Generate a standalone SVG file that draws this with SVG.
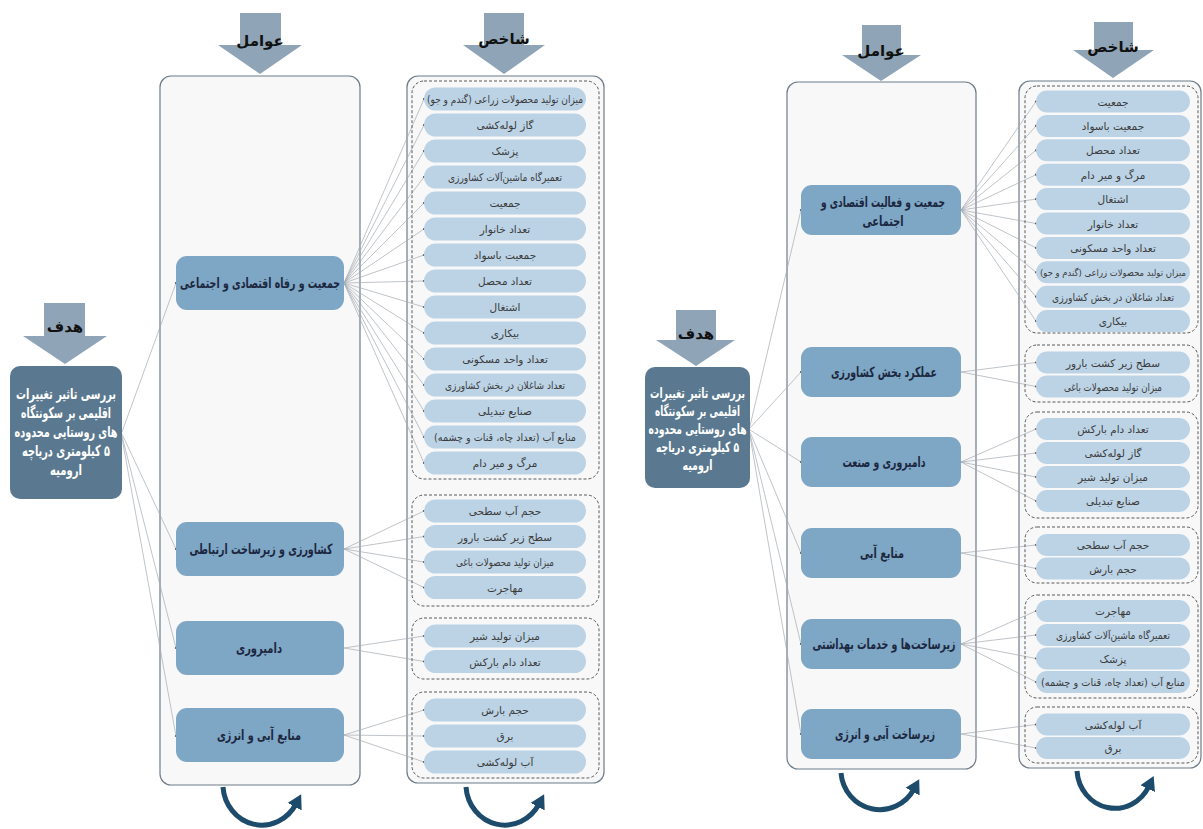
<svg xmlns="http://www.w3.org/2000/svg" width="1203" height="829" viewBox="0 0 1203 829">
<defs>
<style>
text{font-family:"DejaVu Sans",sans-serif;direction:rtl;text-anchor:middle;dominant-baseline:central}
.cont{fill:#f9f8f9;stroke:#6d7c89;stroke-width:1.2}
.dash{fill:none;stroke:#5a5a5a;stroke-width:1;stroke-dasharray:3 2}
.item{fill:#bcd3e6}
.it{font-size:10.5px;fill:#3b3b3b}
.fac{fill:#7ea6c5}
.ft{font-size:14px;font-weight:bold;fill:#1c2840}
.goal{fill:#5a7990}
.gt{font-size:15px;font-weight:bold;fill:#ffffff}
.gt2{font-size:14px;font-weight:bold;fill:#ffffff}
.harrow{fill:#8fa5b7}
.ht{font-size:15px;font-weight:bold;fill:#111}
.ln{stroke:#a3abb2;stroke-width:0.7;fill:none;marker-end:url(#tick)}
.loop{fill:none;stroke:#1d4b6c;stroke-width:5;marker-end:url(#ah)}
</style>
<marker id="tick" markerWidth="4" markerHeight="4" refX="2" refY="2" markerUnits="userSpaceOnUse"><circle cx="2" cy="2" r="1.1" fill="#555"/></marker>
<marker id="ah" markerWidth="18" markerHeight="18" refX="3" refY="9" orient="auto" markerUnits="userSpaceOnUse"><path d="M0,1 L14,9 L0,17 z" fill="#1d4b6c"/></marker>
</defs>

<!-- LEFT DIAGRAM -->
<g id="left-header-factors">
<polygon class="harrow" points="240,13 281,13 281,45 302,45 260,74 218,45 240,45"/>
<text class="ht" x="260" y="41">عوامل</text>
</g>
<g id="left-header-indicators">
<polygon class="harrow" points="484,13 524,13 524,45 545,45 504,74 463,45 484,45"/>
<text class="ht" x="504" y="39">شاخص</text>
</g>
<g id="left-header-goal">
<polygon class="harrow" points="44,303 85,303 85,336 107,336 65,364 23,336 44,336"/>
<text class="ht" x="65" y="327">هدف</text>
</g>

<rect id="left-factors-container" class="cont" x="160" y="76" width="200" height="709" rx="11"/>
<rect id="left-indicators-container" class="cont" x="407" y="76" width="197" height="707" rx="11"/>

<g id="left-connectors">
<path class="ln" d="M122,432 L176,283"/>
<path class="ln" d="M122,434 L176,549"/>
<path class="ln" d="M122,436 L176,648"/>
<path class="ln" d="M122,438 L176,736"/>
<path class="ln" d="M344,283 L424,99"/>
<path class="ln" d="M344,283 L424,125"/>
<path class="ln" d="M344,283 L424,151"/>
<path class="ln" d="M344,283 L424,177"/>
<path class="ln" d="M344,283 L424,203"/>
<path class="ln" d="M344,283 L424,229"/>
<path class="ln" d="M344,283 L424,255"/>
<path class="ln" d="M344,283 L424,281"/>
<path class="ln" d="M344,283 L424,307"/>
<path class="ln" d="M344,283 L424,333"/>
<path class="ln" d="M344,283 L424,359"/>
<path class="ln" d="M344,283 L424,385"/>
<path class="ln" d="M344,283 L424,411"/>
<path class="ln" d="M344,283 L424,437"/>
<path class="ln" d="M344,283 L424,463"/>
<path class="ln" d="M344,549 L424,511"/>
<path class="ln" d="M344,549 L424,536.5"/>
<path class="ln" d="M344,549 L424,562"/>
<path class="ln" d="M344,549 L424,587.5"/>
<path class="ln" d="M344,648 L424,636"/>
<path class="ln" d="M344,648 L424,661.5"/>
<path class="ln" d="M344,735 L424,710"/>
<path class="ln" d="M344,735 L424,736"/>
<path class="ln" d="M344,735 L424,762"/>
</g>

<g id="left-goal">
<rect class="goal" x="10" y="366" width="112" height="133" rx="10"/>
<text class="gt" x="66" y="394" textLength="100" lengthAdjust="spacingAndGlyphs">بررسی تاثیر تغییرات</text>
<text class="gt" x="66" y="413" textLength="90" lengthAdjust="spacingAndGlyphs">اقلیمی بر سکونتگاه</text>
<text class="gt" x="66" y="432" textLength="103" lengthAdjust="spacingAndGlyphs">های روستایی محدوده</text>
<text class="gt" x="66" y="451" textLength="88" lengthAdjust="spacingAndGlyphs">۵ کیلومتری دریاچه</text>
<text class="gt" x="66" y="470" textLength="32" lengthAdjust="spacingAndGlyphs">ارومیه</text>
</g>

<g id="left-f1"><rect class="fac" x="176" y="256" width="168" height="54" rx="11"/><text class="ft" x="260" y="283" textLength="160" lengthAdjust="spacingAndGlyphs">جمعیت و رفاه اقتصادی و اجتماعی</text></g>
<g id="left-f2"><rect class="fac" x="176" y="522" width="168" height="54" rx="11"/><text class="ft" x="261" y="549" textLength="143" lengthAdjust="spacingAndGlyphs">کشاورزی و زیرساخت ارتباطی</text></g>
<g id="left-f3"><rect class="fac" x="176" y="621" width="168" height="54" rx="11"/><text class="ft" x="259" y="648" textLength="46" lengthAdjust="spacingAndGlyphs">دامپروری</text></g>
<g id="left-f4"><rect class="fac" x="176" y="708" width="168" height="54" rx="11"/><text class="ft" x="259" y="735" textLength="84" lengthAdjust="spacingAndGlyphs">منابع آبی و انرژی</text></g>

<g id="left-g1">
<rect class="dash" x="412" y="81" width="187" height="398" rx="12"/>
<rect class="item" x="424" y="87.5" width="162" height="23" rx="11.5"/><text class="it" x="505" y="99" textLength="156" lengthAdjust="spacingAndGlyphs">میزان تولید محصولات زراعی (گندم و جو)</text>
<rect class="item" x="424" y="113.5" width="162" height="23" rx="11.5"/><text class="it" x="505" y="125">گاز لوله‌کشی</text>
<rect class="item" x="424" y="139.5" width="162" height="23" rx="11.5"/><text class="it" x="505" y="151">پزشک</text>
<rect class="item" x="424" y="165.5" width="162" height="23" rx="11.5"/><text class="it" x="505" y="177" textLength="114" lengthAdjust="spacingAndGlyphs">تعمیرگاه ماشین‌آلات کشاورزی</text>
<rect class="item" x="424" y="191.5" width="162" height="23" rx="11.5"/><text class="it" x="505" y="203">جمعیت</text>
<rect class="item" x="424" y="217.5" width="162" height="23" rx="11.5"/><text class="it" x="505" y="229">تعداد خانوار</text>
<rect class="item" x="424" y="243.5" width="162" height="23" rx="11.5"/><text class="it" x="505" y="255">جمعیت باسواد</text>
<rect class="item" x="424" y="269.5" width="162" height="23" rx="11.5"/><text class="it" x="505" y="281">تعداد محصل</text>
<rect class="item" x="424" y="295.5" width="162" height="23" rx="11.5"/><text class="it" x="505" y="307">اشتغال</text>
<rect class="item" x="424" y="321.5" width="162" height="23" rx="11.5"/><text class="it" x="505" y="333">بیکاری</text>
<rect class="item" x="424" y="347.5" width="162" height="23" rx="11.5"/><text class="it" x="505" y="359">تعداد واحد مسکونی</text>
<rect class="item" x="424" y="373.5" width="162" height="23" rx="11.5"/><text class="it" x="505" y="385" textLength="120" lengthAdjust="spacingAndGlyphs">تعداد شاغلان در بخش کشاورزی</text>
<rect class="item" x="424" y="399.5" width="162" height="23" rx="11.5"/><text class="it" x="505" y="411">صنایع تبدیلی</text>
<rect class="item" x="424" y="425.5" width="162" height="23" rx="11.5"/><text class="it" x="505" y="437" textLength="142" lengthAdjust="spacingAndGlyphs">منابع آب (تعداد چاه، قنات و چشمه)</text>
<rect class="item" x="424" y="451.5" width="162" height="23" rx="11.5"/><text class="it" x="505" y="463">مرگ و میر دام</text>
</g>
<g id="left-g2">
<rect class="dash" x="412" y="495" width="187" height="111" rx="12"/>
<rect class="item" x="424" y="499.5" width="162" height="23" rx="11.5"/><text class="it" x="505" y="511">حجم آب سطحی</text>
<rect class="item" x="424" y="525" width="162" height="23" rx="11.5"/><text class="it" x="505" y="536.5">سطح زیر کشت بارور</text>
<rect class="item" x="424" y="550.5" width="162" height="23" rx="11.5"/><text class="it" x="505" y="562" textLength="98" lengthAdjust="spacingAndGlyphs">میزان تولید محصولات باغی</text>
<rect class="item" x="424" y="576" width="162" height="23" rx="11.5"/><text class="it" x="505" y="587.5">مهاجرت</text>
</g>
<g id="left-g3">
<rect class="dash" x="412" y="618" width="187" height="61" rx="12"/>
<rect class="item" x="424" y="624.5" width="162" height="23" rx="11.5"/><text class="it" x="505" y="636">میزان تولید شیر</text>
<rect class="item" x="424" y="650" width="162" height="23" rx="11.5"/><text class="it" x="505" y="661.5">تعداد دام بارکش</text>
</g>
<g id="left-g4">
<rect class="dash" x="412" y="692" width="187" height="86" rx="12"/>
<rect class="item" x="424" y="698.5" width="162" height="23" rx="11.5"/><text class="it" x="505" y="710">حجم بارش</text>
<rect class="item" x="424" y="724.5" width="162" height="23" rx="11.5"/><text class="it" x="505" y="736">برق</text>
<rect class="item" x="424" y="750.5" width="162" height="23" rx="11.5"/><text class="it" x="505" y="762">آب لوله‌کشی</text>
</g>

<g id="left-loops">
<path class="loop" d="M223,787 A39,41 0 0 0 296,804"/>
<path class="loop" d="M466,787 A39,41 0 0 0 539,804"/>
</g>

<!-- RIGHT DIAGRAM -->
<g id="right-header-factors">
<polygon class="harrow" points="862,25 901,25 901,55 921,55 881,81 842,55 862,55"/>
<text class="ht" x="881" y="51">عوامل</text>
</g>
<g id="right-header-indicators">
<polygon class="harrow" points="1094,22 1133,22 1133,50 1154,50 1113,78 1073,50 1094,50"/>
<text class="ht" x="1113" y="47">شاخص</text>
</g>
<g id="right-header-goal">
<polygon class="harrow" points="676,310 716,310 716,340 735,340 696,366 656,340 676,340"/>
<text class="ht" x="696" y="334">هدف</text>
</g>

<rect id="right-factors-container" class="cont" x="787" y="82" width="189" height="687" rx="11"/>
<rect id="right-indicators-container" class="cont" x="1019" y="81" width="182" height="687" rx="11"/>

<g id="right-connectors">
<path class="ln" d="M750,426 L801,210"/>
<path class="ln" d="M750,428 L801,372"/>
<path class="ln" d="M750,430 L801,462"/>
<path class="ln" d="M750,432 L801,553"/>
<path class="ln" d="M750,434 L801,644"/>
<path class="ln" d="M750,436 L801,734"/>
<path class="ln" d="M961,210 L1036,101.5"/>
<path class="ln" d="M961,210 L1036,125.9"/>
<path class="ln" d="M961,210 L1036,150.3"/>
<path class="ln" d="M961,210 L1036,174.7"/>
<path class="ln" d="M961,210 L1036,199.1"/>
<path class="ln" d="M961,210 L1036,223.5"/>
<path class="ln" d="M961,210 L1036,247.9"/>
<path class="ln" d="M961,210 L1036,272.3"/>
<path class="ln" d="M961,210 L1036,296.7"/>
<path class="ln" d="M961,210 L1036,321.1"/>
<path class="ln" d="M961,372 L1036,362.5"/>
<path class="ln" d="M961,372 L1036,386.5"/>
<path class="ln" d="M961,462 L1036,429"/>
<path class="ln" d="M961,462 L1036,453"/>
<path class="ln" d="M961,462 L1036,477"/>
<path class="ln" d="M961,462 L1036,501"/>
<path class="ln" d="M961,553 L1036,545"/>
<path class="ln" d="M961,553 L1036,568.5"/>
<path class="ln" d="M961,644 L1036,611"/>
<path class="ln" d="M961,644 L1036,635"/>
<path class="ln" d="M961,644 L1036,658.5"/>
<path class="ln" d="M961,644 L1036,682"/>
<path class="ln" d="M961,734 L1036,724.5"/>
<path class="ln" d="M961,734 L1036,748"/>
</g>

<g id="right-goal">
<rect class="goal" x="645" y="367" width="105" height="121" rx="10"/>
<text class="gt2" x="697.5" y="393" textLength="95" lengthAdjust="spacingAndGlyphs">بررسی تاثیر تغییرات</text>
<text class="gt2" x="697.5" y="411" textLength="85" lengthAdjust="spacingAndGlyphs">اقلیمی بر سکونتگاه</text>
<text class="gt2" x="697.5" y="429" textLength="98" lengthAdjust="spacingAndGlyphs">های روستایی محدوده</text>
<text class="gt2" x="697.5" y="447" textLength="83" lengthAdjust="spacingAndGlyphs">۵ کیلومتری دریاچه</text>
<text class="gt2" x="697.5" y="465" textLength="30" lengthAdjust="spacingAndGlyphs">ارومیه</text>
</g>

<g id="right-f1"><rect class="fac" x="801" y="185" width="160" height="50" rx="11"/><text class="ft" x="883" y="202" textLength="124" lengthAdjust="spacingAndGlyphs">جمعیت و فعالیت اقتصادی و</text><text class="ft" x="883" y="221" textLength="41" lengthAdjust="spacingAndGlyphs">اجتماعی</text></g>
<g id="right-f2"><rect class="fac" x="801" y="347" width="160" height="50" rx="11"/><text class="ft" x="884" y="372" textLength="106" lengthAdjust="spacingAndGlyphs">عملکرد بخش کشاورزی</text></g>
<g id="right-f3"><rect class="fac" x="801" y="437" width="160" height="50" rx="11"/><text class="ft" x="884" y="462" textLength="83" lengthAdjust="spacingAndGlyphs">دامپروری و صنعت</text></g>
<g id="right-f4"><rect class="fac" x="801" y="528" width="160" height="50" rx="11"/><text class="ft" x="882" y="553" textLength="44" lengthAdjust="spacingAndGlyphs">منابع آبی</text></g>
<g id="right-f5"><rect class="fac" x="801" y="619" width="160" height="50" rx="11"/><text class="ft" x="884" y="644" textLength="143" lengthAdjust="spacingAndGlyphs">زیرساخت‌ها و خدمات بهداشتی</text></g>
<g id="right-f6"><rect class="fac" x="801" y="709" width="160" height="50" rx="11"/><text class="ft" x="885" y="734" textLength="100" lengthAdjust="spacingAndGlyphs">زیرساخت آبی و انرژی</text></g>

<g id="right-g1">
<rect class="dash" x="1025" y="86" width="173" height="247" rx="12"/>
<rect class="item" x="1036" y="90.5" width="154" height="22" rx="11"/><text class="it" x="1113" y="101.5">جمعیت</text>
<rect class="item" x="1036" y="114.9" width="154" height="22" rx="11"/><text class="it" x="1113" y="125.9">جمعیت باسواد</text>
<rect class="item" x="1036" y="139.3" width="154" height="22" rx="11"/><text class="it" x="1113" y="150.3">تعداد محصل</text>
<rect class="item" x="1036" y="163.7" width="154" height="22" rx="11"/><text class="it" x="1113" y="174.7">مرگ و میر دام</text>
<rect class="item" x="1036" y="188.1" width="154" height="22" rx="11"/><text class="it" x="1113" y="199.1">اشتغال</text>
<rect class="item" x="1036" y="212.5" width="154" height="22" rx="11"/><text class="it" x="1113" y="223.5">تعداد خانوار</text>
<rect class="item" x="1036" y="236.9" width="154" height="22" rx="11"/><text class="it" x="1113" y="247.9">تعداد واحد مسکونی</text>
<rect class="item" x="1036" y="261.3" width="154" height="22" rx="11"/><text class="it" x="1113" y="272.3" style="font-size:9.5px" textLength="146" lengthAdjust="spacingAndGlyphs">میزان تولید محصولات زراعی (گندم و جو)</text>
<rect class="item" x="1036" y="285.7" width="154" height="22" rx="11"/><text class="it" x="1113" y="296.7" textLength="122" lengthAdjust="spacingAndGlyphs">تعداد شاغلان در بخش کشاورزی</text>
<rect class="item" x="1036" y="310.1" width="154" height="22" rx="11"/><text class="it" x="1113" y="321.1">بیکاری</text>
</g>
<g id="right-g2">
<rect class="dash" x="1025" y="345" width="173" height="57" rx="12"/>
<rect class="item" x="1036" y="351.5" width="154" height="22" rx="11"/><text class="it" x="1113" y="362.5">سطح زیر کشت بارور</text>
<rect class="item" x="1036" y="375.5" width="154" height="22" rx="11"/><text class="it" x="1113" y="386.5" textLength="98" lengthAdjust="spacingAndGlyphs">میزان تولید محصولات باغی</text>
</g>
<g id="right-g3">
<rect class="dash" x="1025" y="412" width="173" height="106" rx="12"/>
<rect class="item" x="1036" y="418" width="154" height="22" rx="11"/><text class="it" x="1113" y="429">تعداد دام بارکش</text>
<rect class="item" x="1036" y="442" width="154" height="22" rx="11"/><text class="it" x="1113" y="453">گاز لوله‌کشی</text>
<rect class="item" x="1036" y="466" width="154" height="22" rx="11"/><text class="it" x="1113" y="477">میزان تولید شیر</text>
<rect class="item" x="1036" y="490" width="154" height="22" rx="11"/><text class="it" x="1113" y="501">صنایع تبدیلی</text>
</g>
<g id="right-g4">
<rect class="dash" x="1025" y="527" width="173" height="56" rx="12"/>
<rect class="item" x="1036" y="534" width="154" height="22" rx="11"/><text class="it" x="1113" y="545">حجم آب سطحی</text>
<rect class="item" x="1036" y="557.5" width="154" height="22" rx="11"/><text class="it" x="1113" y="568.5">حجم بارش</text>
</g>
<g id="right-g5">
<rect class="dash" x="1025" y="595" width="173" height="103" rx="12"/>
<rect class="item" x="1036" y="600" width="154" height="22" rx="11"/><text class="it" x="1113" y="611">مهاجرت</text>
<rect class="item" x="1036" y="624" width="154" height="22" rx="11"/><text class="it" x="1113" y="635" textLength="114" lengthAdjust="spacingAndGlyphs">تعمیرگاه ماشین‌آلات کشاورزی</text>
<rect class="item" x="1036" y="647.5" width="154" height="22" rx="11"/><text class="it" x="1113" y="658.5">پزشک</text>
<rect class="item" x="1036" y="671" width="154" height="22" rx="11"/><text class="it" x="1113" y="682" textLength="144" lengthAdjust="spacingAndGlyphs">منابع آب (تعداد چاه، قنات و چشمه)</text>
</g>
<g id="right-g6">
<rect class="dash" x="1025" y="707" width="173" height="56" rx="12"/>
<rect class="item" x="1036" y="713.5" width="154" height="22" rx="11"/><text class="it" x="1113" y="724.5">آب لوله‌کشی</text>
<rect class="item" x="1036" y="737" width="154" height="22" rx="11"/><text class="it" x="1113" y="748">برق</text>
</g>

<g id="right-loops">
<path class="loop" d="M841,773 A39,40 0 0 0 914,789"/>
<path class="loop" d="M1077,771 A38,40 0 0 0 1149,786"/>
</g>
</svg>
